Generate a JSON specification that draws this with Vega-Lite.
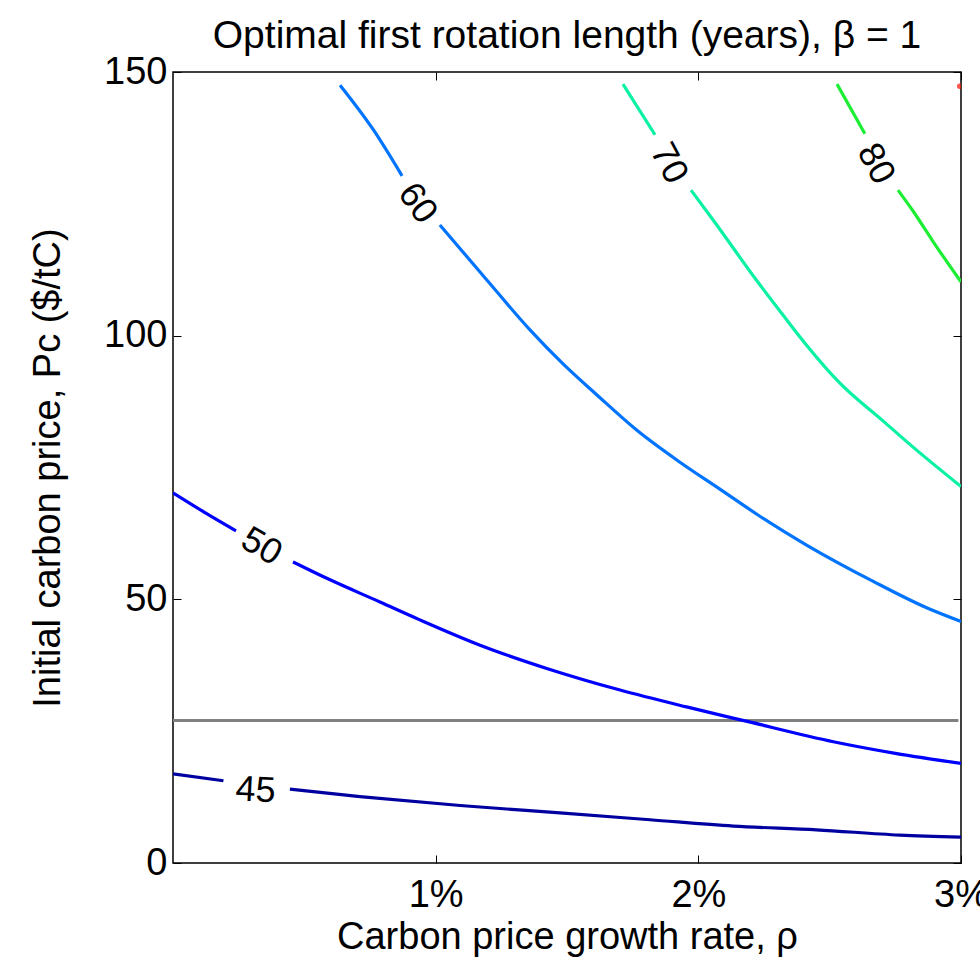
{
  "$schema": "https://vega.github.io/schema/vega-lite/v6.json",
  "autosize": "none",
  "width": 788,
  "height": 791,
  "padding": {"left": 173, "top": 72, "right": 19, "bottom": 97},
  "background": "white",
  "config": {
    "font": "Liberation Sans",
    "view": {"stroke": "#000", "strokeWidth": 1.5},
    "axis": {"grid": false, "domain": false, "tickColor": "#000", "labelColor": "#000", "titleColor": "#000", "labelFont": "Liberation Sans", "titleFont": "Liberation Sans", "labelFontSize": 38, "titleFontSize": 38, "titleFontWeight": "normal", "tickSize": -8, "tickWidth": 1, "labelFlush": false, "labelOverlap": false}
  },
  "title": {"text": "Optimal first rotation length (years), β = 1", "font": "Liberation Sans", "fontSize": 39, "fontWeight": "normal", "color": "#000", "anchor": "middle", "offset": -3},
  "datasets": {
    "contours": [
      {"level": "45", "seg": "45a", "rate": 0, "price": 16.9},
      {"level": "45", "seg": "45a", "rate": 0.00192, "price": 15.6},
      {"level": "45", "seg": "45b", "rate": 0.00445, "price": 14.0},
      {"level": "45", "seg": "45b", "rate": 0.00712, "price": 12.6},
      {"level": "45", "seg": "45b", "rate": 0.01093, "price": 10.9},
      {"level": "45", "seg": "45b", "rate": 0.01473, "price": 9.5},
      {"level": "45", "seg": "45b", "rate": 0.01816, "price": 8.2},
      {"level": "45", "seg": "45b", "rate": 0.02133, "price": 7.0},
      {"level": "45", "seg": "45b", "rate": 0.0245, "price": 6.3},
      {"level": "45", "seg": "45b", "rate": 0.02767, "price": 5.3},
      {"level": "45", "seg": "45b", "rate": 0.03, "price": 4.9},
      {"level": "50", "seg": "50a", "rate": 0, "price": 70.2},
      {"level": "50", "seg": "50a", "rate": 0.0012, "price": 66.5},
      {"level": "50", "seg": "50a", "rate": 0.0024, "price": 63.0},
      {"level": "50", "seg": "50b", "rate": 0.00457, "price": 57.1},
      {"level": "50", "seg": "50b", "rate": 0.00598, "price": 53.7},
      {"level": "50", "seg": "50b", "rate": 0.00788, "price": 49.5},
      {"level": "50", "seg": "50b", "rate": 0.0094, "price": 46.1},
      {"level": "50", "seg": "50b", "rate": 0.01169, "price": 41.3},
      {"level": "50", "seg": "50b", "rate": 0.01423, "price": 36.9},
      {"level": "50", "seg": "50b", "rate": 0.01702, "price": 32.8},
      {"level": "50", "seg": "50b", "rate": 0.01955, "price": 29.6},
      {"level": "50", "seg": "50b", "rate": 0.0219, "price": 26.8},
      {"level": "50", "seg": "50b", "rate": 0.02514, "price": 23.0},
      {"level": "50", "seg": "50b", "rate": 0.0275, "price": 20.8},
      {"level": "50", "seg": "50b", "rate": 0.03, "price": 18.9},
      {"level": "60", "seg": "60a", "rate": 0.00636, "price": 147.5},
      {"level": "60", "seg": "60a", "rate": 0.00762, "price": 139.1},
      {"level": "60", "seg": "60a", "rate": 0.00872, "price": 130.3},
      {"level": "60", "seg": "60b", "rate": 0.01016, "price": 121.0},
      {"level": "60", "seg": "60b", "rate": 0.01194, "price": 110.6},
      {"level": "60", "seg": "60b", "rate": 0.01359, "price": 101.1},
      {"level": "60", "seg": "60b", "rate": 0.01486, "price": 94.6},
      {"level": "60", "seg": "60b", "rate": 0.01613, "price": 88.8},
      {"level": "60", "seg": "60b", "rate": 0.01765, "price": 82.1},
      {"level": "60", "seg": "60b", "rate": 0.0193, "price": 76.0},
      {"level": "60", "seg": "60b", "rate": 0.02082, "price": 70.9},
      {"level": "60", "seg": "60b", "rate": 0.0223, "price": 65.9},
      {"level": "60", "seg": "60b", "rate": 0.02412, "price": 60.3},
      {"level": "60", "seg": "60b", "rate": 0.02666, "price": 53.4},
      {"level": "60", "seg": "60b", "rate": 0.02869, "price": 48.4},
      {"level": "60", "seg": "60b", "rate": 0.03, "price": 45.8},
      {"level": "70", "seg": "70a", "rate": 0.01713, "price": 147.7},
      {"level": "70", "seg": "70a", "rate": 0.01835, "price": 138.1},
      {"level": "70", "seg": "70b", "rate": 0.01972, "price": 127.6},
      {"level": "70", "seg": "70b", "rate": 0.02057, "price": 121.9},
      {"level": "70", "seg": "70b", "rate": 0.0222, "price": 110.6},
      {"level": "70", "seg": "70b", "rate": 0.02318, "price": 104.2},
      {"level": "70", "seg": "70b", "rate": 0.02412, "price": 98.2},
      {"level": "70", "seg": "70b", "rate": 0.02539, "price": 91.0},
      {"level": "70", "seg": "70b", "rate": 0.02704, "price": 83.8},
      {"level": "70", "seg": "70b", "rate": 0.02831, "price": 78.3},
      {"level": "70", "seg": "70b", "rate": 0.03, "price": 71.4},
      {"level": "80", "seg": "80a", "rate": 0.02528, "price": 147.7},
      {"level": "80", "seg": "80a", "rate": 0.02634, "price": 138.3},
      {"level": "80", "seg": "80b", "rate": 0.0276, "price": 127.6},
      {"level": "80", "seg": "80b", "rate": 0.02818, "price": 123.6},
      {"level": "80", "seg": "80b", "rate": 0.02893, "price": 117.9},
      {"level": "80", "seg": "80b", "rate": 0.03, "price": 110.2}
    ],
    "labels": [
      {"label": "45", "rate": 0.00314, "price": 13.8},
      {"label": "50", "rate": 0.00337, "price": 60.0},
      {"label": "60", "rate": 0.00931, "price": 125.1},
      {"label": "70", "rate": 0.01888, "price": 132.7},
      {"label": "80", "rate": 0.02676, "price": 132.6}
    ]
  },
  "resolve": {"axis": {"x": "independent", "y": "independent"}},
  "layer": [
    {
      "data": {"values": [{"rate": 0, "rate2": 0.0299, "price": 27}]},
      "mark": {"type": "rule", "color": "#808080", "strokeWidth": 3},
      "encoding": {
        "x": {"field": "rate", "type": "quantitative", "scale": {"domain": [0, 0.03], "nice": false}, "axis": {"orient": "bottom", "values": [0.01, 0.02, 0.03], "format": ".0%", "title": "Carbon price growth rate, ρ", "labelPadding": 21, "titlePadding": 4}},
        "x2": {"field": "rate2"},
        "y": {"field": "price", "type": "quantitative", "scale": {"domain": [0, 150], "nice": false, "zero": false}, "axis": {"orient": "left", "values": [0, 50, 100, 150], "format": "d", "title": "Initial carbon price, Pc ($/tC)", "labelPadding": 14, "titlePadding": 36}}
      }
    },
    {
      "data": {"name": "contours"},
      "mark": {"type": "line", "strokeWidth": 3.2, "clip": true, "interpolate": "monotone"},
      "encoding": {
        "x": {"field": "rate", "type": "quantitative", "axis": {"orient": "top", "values": [0.01, 0.02, 0.03], "labels": false, "title": null}},
        "y": {"field": "price", "type": "quantitative", "axis": {"orient": "right", "values": [0, 50, 100, 150], "labels": false, "title": null}},
        "detail": {"field": "seg"},
        "color": {"field": "level", "type": "nominal", "legend": null, "scale": {"domain": ["45", "50", "60", "70", "80"], "range": ["#0000A0", "#0000FF", "#0074FF", "#08F2A2", "#1CEE34"]}}
      }
    },
    {
      "data": {"values": [{"rate": 0.02995, "price": 147.3}]},
      "mark": {"type": "point", "filled": true, "color": "#FF1000", "size": 30, "clip": true},
      "encoding": {"x": {"field": "rate", "type": "quantitative", "axis": null}, "y": {"field": "price", "type": "quantitative", "axis": null}}
    },
    {
      "data": {"name": "labels"},
      "transform": [{"filter": "datum.label == '45'"}],
      "mark": {"type": "text", "fontSize": 36, "angle": 3, "color": "#000", "align": "center", "baseline": "middle"},
      "encoding": {"x": {"field": "rate", "type": "quantitative", "axis": null}, "y": {"field": "price", "type": "quantitative", "axis": null}, "text": {"field": "label"}}
    },
    {
      "data": {"name": "labels"},
      "transform": [{"filter": "datum.label == '50'"}],
      "mark": {"type": "text", "fontSize": 36, "angle": 30, "color": "#000", "align": "center", "baseline": "middle"},
      "encoding": {"x": {"field": "rate", "type": "quantitative", "axis": null}, "y": {"field": "price", "type": "quantitative", "axis": null}, "text": {"field": "label"}}
    },
    {
      "data": {"name": "labels"},
      "transform": [{"filter": "datum.label == '60'"}],
      "mark": {"type": "text", "fontSize": 36, "angle": 55, "color": "#000", "align": "center", "baseline": "middle"},
      "encoding": {"x": {"field": "rate", "type": "quantitative", "axis": null}, "y": {"field": "price", "type": "quantitative", "axis": null}, "text": {"field": "label"}}
    },
    {
      "data": {"name": "labels"},
      "transform": [{"filter": "datum.label == '70' || datum.label == '80'"}],
      "mark": {"type": "text", "fontSize": 36, "angle": 62, "color": "#000", "align": "center", "baseline": "middle"},
      "encoding": {"x": {"field": "rate", "type": "quantitative", "axis": null}, "y": {"field": "price", "type": "quantitative", "axis": null}, "text": {"field": "label"}}
    }
  ]
}
